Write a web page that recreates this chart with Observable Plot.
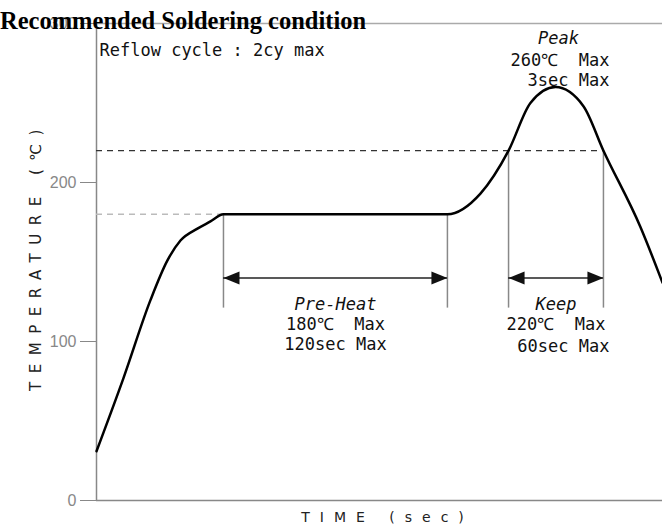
<!DOCTYPE html>
<html>
<head>
<meta charset="utf-8">
<script src="https://cdn.jsdelivr.net/npm/d3@7"></script>
<script src="https://cdn.jsdelivr.net/npm/@observablehq/plot@0.6"></script>
<style>
  html, body { margin: 0; padding: 0; background: #fff; }
  #wrap { position: relative; width: 662px; height: 524px; }
  #title { position: absolute; left: 0; top: 9px; font-family: "Liberation Serif", serif; font-weight: bold; font-size: 24.5px; line-height: 1; color: #000; white-space: nowrap; }
</style>
</head>
<body>
<div id="wrap">
  <div id="chart"></div>
  <div id="title">Recommended Soldering condition</div>
</div>
<script>
// Reflow profile (time in schematic units, temperature in °C)
const timeSec = [0, 14.3, 28.6, 37.6, 44.5, 53.5, 60.4, 67.3, 186, 203.5, 218.4, 230, 243.3, 258.1, 268.7, 288.3, 300];
const tempC   = [31, 77, 126, 151, 163.5, 171, 175.5, 180, 180, 193, 220, 250, 260, 248, 220, 172, 137];

// Zones
const zoneNames  = ["Pre-Heat", "Keep"];
const zoneStart  = [67.3, 218.4];
const zoneEnd    = [186, 268.7];
const zoneTemp   = [180, 220];
const zoneLine1  = ["180℃\u00a0\u00a0Max", "220℃\u00a0\u00a0Max"];
const zoneLine2  = ["120sec Max", "60sec Max"];

// Peak
const peakTime = 243.3;
const peakTemp = 260;
const peakLine1 = "260℃\u00a0\u00a0Max";
const peakLine2 = "3sec Max";

const yTicks = [0, 100, 200, 300];
const arrowLevel = 140;
const guideBottom = 121;

const profile = timeSec.map((t, i) => ({t, v: tempC[i]}));
const zones = zoneNames.map((name, i) => ({name, s: zoneStart[i], e: zoneEnd[i], v: zoneTemp[i], l1: zoneLine1[i], l2: zoneLine2[i], mid: (zoneStart[i] + zoneEnd[i]) / 2}));
const bounds = zones.flatMap(z => [{t: z.s, v: z.v}, {t: z.e, v: z.v}]);

const leftHead = {draw(ctx) { ctx.moveTo(0, 0); ctx.lineTo(16, -6.5); ctx.lineTo(16, 6.5); ctx.closePath(); }};
const rightHead = {draw(ctx) { ctx.moveTo(0, 0); ctx.lineTo(-16, -6.5); ctx.lineTo(-16, 6.5); ctx.closePath(); }};

const mono = "DejaVu Sans Mono";
const fs = 17;

const chart = Plot.plot({
  width: 662,
  height: 524,
  marginTop: 23,
  marginBottom: 24,
  marginLeft: 96,
  marginRight: 0,
  x: {domain: [0, 300], axis: null},
  y: {domain: [0, 300], ticks: yTicks, tickSize: 16, tickPadding: 4, label: null},
  style: {fontFamily: "Liberation Sans", fontSize: "16px", color: "#888", background: "white", overflow: "visible"},
  marks: [
    Plot.ruleY([300], {stroke: "#aaa", strokeWidth: 1.5}),
    Plot.ruleX([0], {stroke: "#888", strokeWidth: 1.5}),
    Plot.ruleY([0], {stroke: "#888", strokeWidth: 1.5}),
    // reference lines
    Plot.ruleY([zoneTemp[0]], {x1: 0, x2: zoneStart[0], stroke: "#bbb", strokeWidth: 1.5, strokeDasharray: "6,5"}),
    Plot.ruleY([zoneTemp[1]], {x1: 0, x2: zoneEnd[1], stroke: "#333", strokeWidth: 1.2, strokeDasharray: "6,5"}),
    // zone guides
    Plot.ruleX(bounds, {x: "t", y1: guideBottom, y2: "v", stroke: "#888", strokeWidth: 1.5}),
    // arrows
    Plot.ruleY(zones, {y: arrowLevel, x1: d => d.s, x2: d => d.e, stroke: "#222", strokeWidth: 1.5}),
    Plot.dot(zones, {x: "s", y: arrowLevel, symbol: leftHead, fill: "#111", stroke: "none"}),
    Plot.dot(zones, {x: "e", y: arrowLevel, symbol: rightHead, fill: "#111", stroke: "none"}),
    // profile curve
    Plot.line(profile, {x: "t", y: "v", curve: "monotone-x", stroke: "#000", strokeWidth: 2.5}),
    // zone labels
    Plot.text(zones, {x: "mid", y: arrowLevel, text: "name", dy: 27, fontFamily: mono, fontSize: fs, fontStyle: "italic", fill: "#111", textAnchor: "middle"}),
    Plot.text(zones, {x: "mid", y: arrowLevel, text: "l1", dy: 47, fontFamily: mono, fontSize: fs, fill: "#111", textAnchor: "middle"}),
    Plot.text(zones.slice(0, 1), {x: "mid", y: arrowLevel, text: "l2", dy: 67, fontFamily: mono, fontSize: fs, fill: "#111", textAnchor: "middle"}),
    Plot.text(zones.slice(1), {x: "e", y: arrowLevel, text: "l2", dx: 6, dy: 69, fontFamily: mono, fontSize: fs, fill: "#111", textAnchor: "end"}),
    // peak labels
    Plot.text(["Peak"], {x: peakTime, y: peakTemp, text: d => d, dx: 3, dy: -49, fontFamily: mono, fontSize: fs, fontStyle: "italic", fill: "#111", textAnchor: "middle"}),
    Plot.text([peakLine1], {x: zoneEnd[1], y: peakTemp, text: d => d, dx: 6, dy: -27, fontFamily: mono, fontSize: fs, fill: "#111", textAnchor: "end"}),
    Plot.text([peakLine2], {x: zoneEnd[1], y: peakTemp, text: d => d, dx: 6, dy: -7, fontFamily: mono, fontSize: fs, fill: "#111", textAnchor: "end"}),
    // cycle note
    Plot.text(["Reflow cycle : 2cy max"], {frameAnchor: "top-left", text: d => d, dx: 3, dy: 20, lineAnchor: "top", fontFamily: mono, fontSize: fs, fill: "#111"}),
    // axis titles
    Plot.text(["TEMPERATURE (℃)"], {frameAnchor: "left", text: d => d, rotate: -90, dx: -60, dy: -6, textAnchor: "middle", lineAnchor: "middle", fontFamily: "DejaVu Sans", fontSize: 15, fill: "#222"}),
    Plot.text(["TIME (sec)"], {frameAnchor: "bottom", text: d => d, dx: 8, dy: 17, textAnchor: "middle", lineAnchor: "middle", fontFamily: "DejaVu Sans", fontSize: 14, fill: "#222"})
  ]
});

d3.select(chart).selectAll("text").each(function() {
  const s = this.textContent;
  if (s === "TEMPERATURE (℃)") this.setAttribute("letter-spacing", "8.5");
  if (s === "TIME (sec)") this.setAttribute("letter-spacing", "10");
});
document.getElementById("chart").appendChild(chart);
</script>
</body>
</html>
